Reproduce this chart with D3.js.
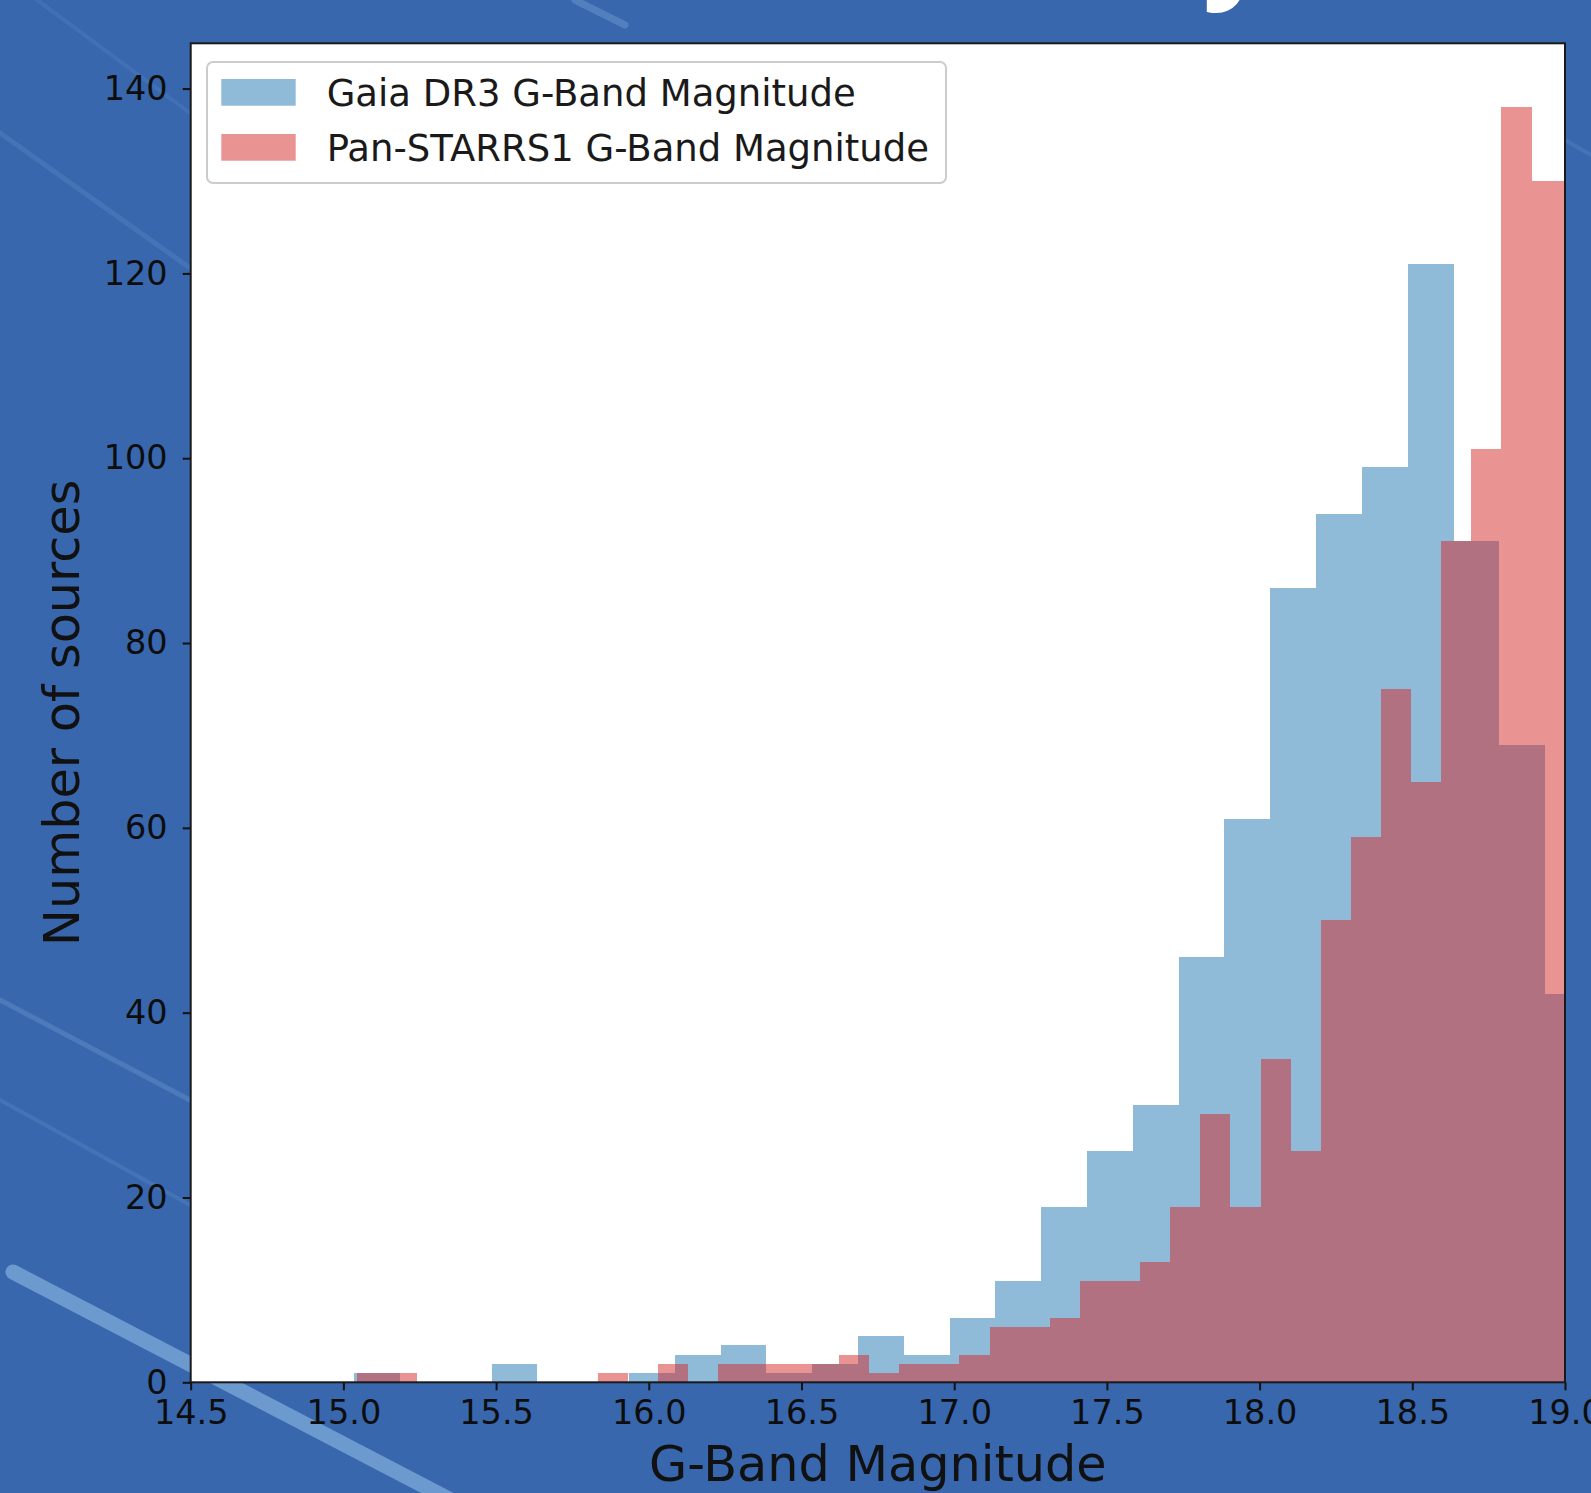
<!DOCTYPE html>
<html>
<head>
<meta charset="utf-8">
<script src="https://cdn.jsdelivr.net/npm/d3@7"></script>
<style>
    body { margin: 0; background: #3867ae; }
    svg { display: block; }
    text { font-family: "DejaVu Sans", sans-serif; }
</style>
</head>
<body>
<div id="chart"></div>
<script>

// Gaia DR3 histogram: bins of 0.15 mag starting at 15.035
let gaiaStart = 15.035;
let gaiaWidth = 0.15;
let gaiaCounts = [1, 0, 0, 2, 0, 0, 1, 3, 4, 1, 2, 5, 3, 7, 11, 19, 25, 30, 46, 61, 86, 94, 99, 121, 91, 69, 42];

// Pan-STARRS1 histogram: bins of ~0.0986 mag starting at 15.045
let panStart = 15.045;
let panWidth = 0.0986;
let panCounts = [1, 1, 0, 0, 0, 0, 0, 0, 1, 0, 2, 0, 2, 2, 2, 2, 3, 1, 2, 2, 3, 6, 6, 7, 11, 11, 13, 19, 29, 19, 35, 25, 50, 59, 75, 65, 91, 101, 138, 130, 130];

let xTicks = [14.5, 15.0, 15.5, 16.0, 16.5, 17.0, 17.5, 18.0, 18.5, 19.0];
let yTicks = [0, 20, 40, 60, 80, 100, 120, 140];

let legendLabels = ["Gaia DR3 G-Band Magnitude", "Pan-STARRS1 G-Band Magnitude"];
let seriesColors = ["#1f77b4", "#d62728"];

let xLabel = "G-Band Magnitude";
let yLabel = "Number of sources";

// background streaks (decoration only, from the slide image behind the plot)
let streaks = [
    [13, 1272, 470, 1510, 15, 0.8],
    [0, 1000, 190, 1100, 5, 0.3],
    [0, 1100, 190, 1205, 4, 0.2],
    [37, 0, 190, 113, 4, 0.15],
    [0, 133, 190, 268, 5, 0.2],
    [575, 0, 625, 25, 7, 0.4],
    [1565, 140, 1591, 155, 4, 0.2]
];

let W = 1591, H = 1493;
let plotLeft = 190.7, plotRight = 1565, plotTop = 43.3, plotBottom = 1382.3;

let svg = d3.select('#chart').append('svg')
    .attr('width', W)
    .attr('height', H);

svg.append('rect')
    .attr('width', W).attr('height', H)
    .attr('fill', '#3867ae');

svg.selectAll('line.streak').data(streaks).enter()
    .append('line').attr('class', 'streak')
    .attr('x1', d => d[0]).attr('y1', d => d[1])
    .attr('x2', d => d[2]).attr('y2', d => d[3])
    .attr('stroke', '#7aa7d6')
    .attr('stroke-width', d => d[4])
    .attr('stroke-linecap', 'round')
    .attr('opacity', d => d[5]);

// bit of the slide title peeking in from the top
svg.append('text')
    .attr('x', 1237).attr('y', -16)
    .attr('text-anchor', 'middle')
    .style('font-family', '"Open Sans", sans-serif')
    .style('font-weight', 'bold')
    .style('font-size', '120px')
    .attr('fill', 'white')
    .text('y');

let x = d3.scaleLinear().domain([14.5, 19.0]).range([plotLeft, plotRight]);
let y = d3.scaleLinear().domain([0, 138 * 1.05]).range([plotBottom, plotTop]);

svg.append('clipPath').attr('id', 'plot-clip')
    .append('rect')
    .attr('x', plotLeft).attr('y', plotTop)
    .attr('width', plotRight - plotLeft).attr('height', plotBottom - plotTop);

svg.append('rect')
    .attr('x', plotLeft).attr('y', plotTop)
    .attr('width', plotRight - plotLeft).attr('height', plotBottom - plotTop)
    .attr('fill', 'white');

let plot = svg.append('g').attr('clip-path', 'url(#plot-clip)');

function binsOf(start, width, counts) {
    return counts.map((c, i) => ({ x0: start + i * width, x1: start + (i + 1) * width, n: c }))
        .filter(d => d.n > 0);
}

let series = [
    binsOf(gaiaStart, gaiaWidth, gaiaCounts),
    binsOf(panStart, panWidth, panCounts)
];

series.forEach((bins, k) => {
    plot.append('g').selectAll('rect').data(bins).enter()
        .append('rect')
        .attr('x', d => x(d.x0))
        .attr('width', d => x(d.x1) - x(d.x0))
        .attr('y', d => y(d.n))
        .attr('height', d => y(0) - y(d.n))
        .attr('fill', seriesColors[k])
        .attr('fill-opacity', 0.5)
        .attr('shape-rendering', 'crispEdges');
});

// axes
let xAxis = svg.append('g')
    .attr('transform', `translate(0,${plotBottom})`)
    .call(d3.axisBottom(x).tickValues(xTicks).tickFormat(d3.format('.1f')).tickSize(8).tickPadding(10));

let yAxis = svg.append('g')
    .attr('transform', `translate(${plotLeft},0)`)
    .call(d3.axisLeft(y).tickValues(yTicks).tickSize(8).tickPadding(15));

[xAxis, yAxis].forEach(a => {
    a.select('.domain').remove();
    a.selectAll('.tick line').attr('stroke', '#111').attr('stroke-width', 2);
    a.selectAll('.tick text')
        .attr('fill', '#0d0d0d')
        .style('font-family', '"DejaVu Sans", sans-serif')
        .style('font-size', '33.5px');
});

// frame
svg.append('rect')
    .attr('x', plotLeft).attr('y', plotTop)
    .attr('width', plotRight - plotLeft).attr('height', plotBottom - plotTop)
    .attr('fill', 'none')
    .attr('stroke', '#1a1a1a')
    .attr('stroke-width', 2);

// axis titles
svg.append('text')
    .attr('x', (plotLeft + plotRight) / 2).attr('y', 1481)
    .attr('text-anchor', 'middle')
    .attr('fill', '#111')
    .style('font-size', '49.3px')
    .text(xLabel);

svg.append('text')
    .attr('transform', `translate(79,${(plotTop + plotBottom) / 2}) rotate(-90)`)
    .attr('text-anchor', 'middle')
    .attr('fill', '#111')
    .style('font-size', '49.3px')
    .text(yLabel);

// legend
let legend = svg.append('g');
legend.append('rect')
    .attr('x', 207).attr('y', 62)
    .attr('width', 739).attr('height', 121)
    .attr('rx', 6)
    .attr('fill', 'white')
    .attr('stroke', '#cccccc')
    .attr('stroke-width', 2);

let rows = legend.selectAll('g.row').data(legendLabels).enter()
    .append('g').attr('class', 'row')
    .attr('transform', (d, i) => `translate(0,${i * 55})`);

rows.append('rect')
    .attr('x', 221.3).attr('y', 79)
    .attr('width', 74.4).attr('height', 26.7)
    .attr('fill', (d, i) => seriesColors[i])
    .attr('fill-opacity', 0.5);

rows.append('text')
    .attr('x', 326.7).attr('y', 106)
    .attr('fill', '#1a1a1a')
    .style('font-size', '37px')
    .text(d => d);

</script>
</body>
</html>
